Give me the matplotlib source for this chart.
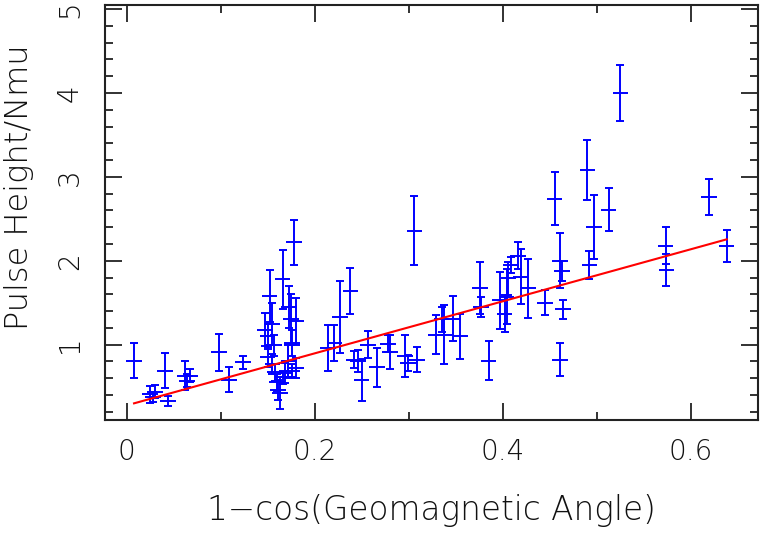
import numpy as np
import matplotlib
matplotlib.use("Agg")
import matplotlib.pyplot as plt
from matplotlib.ticker import MultipleLocator, FuncFormatter

plt.rcParams["font.family"] = ["DejaVu Sans"]
plt.rcParams["font.weight"] = "light"
plt.rcParams["axes.labelweight"] = "light"

# measured points: x = 1-cos(angle), y = pulse height / Nmu, dy = error
x_vals = [0.008, 0.025, 0.028, 0.030, 0.041, 0.044, 0.062, 0.064, 0.068, 0.098,
          0.109, 0.124,
          0.147, 0.150, 0.152, 0.155, 0.157, 0.166, 0.173, 0.175, 0.178, 0.180,
          0.176, 0.172,
          0.150, 0.155, 0.158, 0.160, 0.161, 0.163, 0.166, 0.168, 0.172, 0.176,
          0.180,
          0.214, 0.221, 0.227, 0.238, 0.242, 0.246, 0.250, 0.257, 0.266, 0.278,
          0.280, 0.296, 0.299, 0.306, 0.309, 0.329, 0.335, 0.338, 0.347, 0.355,
          0.376, 0.377, 0.385, 0.397, 0.402, 0.404, 0.406, 0.409, 0.416, 0.419,
          0.427, 0.445,
          0.455, 0.461, 0.463, 0.464, 0.4605, 0.490, 0.492, 0.497, 0.5125, 0.525,
          0.573, 0.574, 0.619, 0.638]
y_vals = [0.81, 0.41, 0.38, 0.44, 0.69, 0.33, 0.63, 0.57, 0.63, 0.91,
          0.58, 0.79,
          1.18, 1.10, 1.58, 1.25, 0.99, 1.78, 1.45, 1.30, 2.22, 1.28,
          1.02, 0.81,
          0.85, 0.77, 0.67, 0.55, 0.46, 0.42, 0.61, 0.66, 0.80, 0.69,
          0.72,
          0.96, 1.02, 1.33, 1.64, 0.82, 0.80, 0.58, 1.00, 0.73, 1.01,
          0.91, 0.86, 0.78, 2.36, 0.82, 1.12, 1.30, 1.12, 1.31, 1.10,
          1.67, 1.45, 0.81, 1.53, 1.37, 1.57, 1.79, 1.95, 2.06, 1.81,
          1.67, 1.50,
          2.74, 2.00, 1.88, 1.42, 0.82, 3.08, 1.95, 2.40, 2.61, 4.00,
          2.18, 1.89, 2.76, 2.18]
y_errs = [0.21, 0.10, 0.06, 0.08, 0.21, 0.06, 0.17, 0.08, 0.08, 0.22,
          0.15, 0.08,
          0.20, 0.15, 0.31, 0.25, 0.12, 0.35, 0.25, 0.30, 0.27, 0.28,
          0.15, 0.20,
          0.12, 0.12, 0.10, 0.10, 0.12, 0.19, 0.08, 0.12, 0.20, 0.08,
          0.12,
          0.27, 0.21, 0.43, 0.27, 0.10, 0.13, 0.25, 0.16, 0.23, 0.10,
          0.20, 0.25, 0.10, 0.41, 0.15, 0.23, 0.15, 0.35, 0.27, 0.27,
          0.31, 0.12, 0.23, 0.34, 0.22, 0.33, 0.20, 0.10, 0.16, 0.33,
          0.35, 0.15,
          0.32, 0.33, 0.12, 0.11, 0.20, 0.36, 0.17, 0.38, 0.26, 0.33,
          0.22, 0.19, 0.21, 0.19]
x_half_width = 0.0083

# straight-line fit, endpoints
fit_x = [0.008, 0.638]
fit_y = [0.30, 2.255]

fig = plt.figure(figsize=(7.6, 5.4), dpi=100)
ax = fig.add_axes([0.138, 0.222, 0.859, 0.769])

ax.errorbar(x_vals, y_vals, xerr=x_half_width, fmt="none", ecolor="#0000ff",
            elinewidth=1.4, capsize=0)
ax.errorbar(x_vals, y_vals, yerr=y_errs, fmt="none", ecolor="#0000ff",
            elinewidth=1.4, capsize=3, capthick=1.4)
ax.plot(fit_x, fit_y, color="#ff0000", lw=1.5)

ax.set_xlim(-0.023, 0.671)
ax.set_ylim(0.1, 5.05)

ax.xaxis.set_major_locator(MultipleLocator(0.2))
ax.xaxis.set_minor_locator(MultipleLocator(0.1))
ax.yaxis.set_major_locator(MultipleLocator(1))
ax.yaxis.set_minor_locator(MultipleLocator(0.2))
ax.xaxis.set_major_formatter(FuncFormatter(lambda v, p: "%g" % round(v, 2)))
ax.yaxis.set_major_formatter(FuncFormatter(lambda v, p: "%g" % round(v, 2)))

for s in ax.spines.values():
    s.set_linewidth(1.5)
    s.set_color("#222222")

ax.tick_params(which="both", direction="in", top=True, right=True,
               color="#222222", width=1.3)
ax.tick_params(which="major", length=12)
ax.tick_params(which="minor", length=6)
ax.tick_params(axis="x", which="major", labelsize=20, pad=13, labelcolor="#111111")
ax.tick_params(axis="y", which="major", labelsize=20, pad=15, labelcolor="#111111")
for lbl in ax.get_yticklabels():
    lbl.set_rotation(90)
    lbl.set_va("center")

ax.set_xlabel("1\u2212cos(Geomagnetic Angle)", fontsize=23.5, color="#111111",
              fontweight="light", labelpad=20)
ax.set_ylabel("Pulse Height/Nmu", fontsize=23, color="#111111",
              fontweight="light")
ax.yaxis.set_label_coords(-0.108, 0.56)

fig.savefig("out.png", dpi=100)
